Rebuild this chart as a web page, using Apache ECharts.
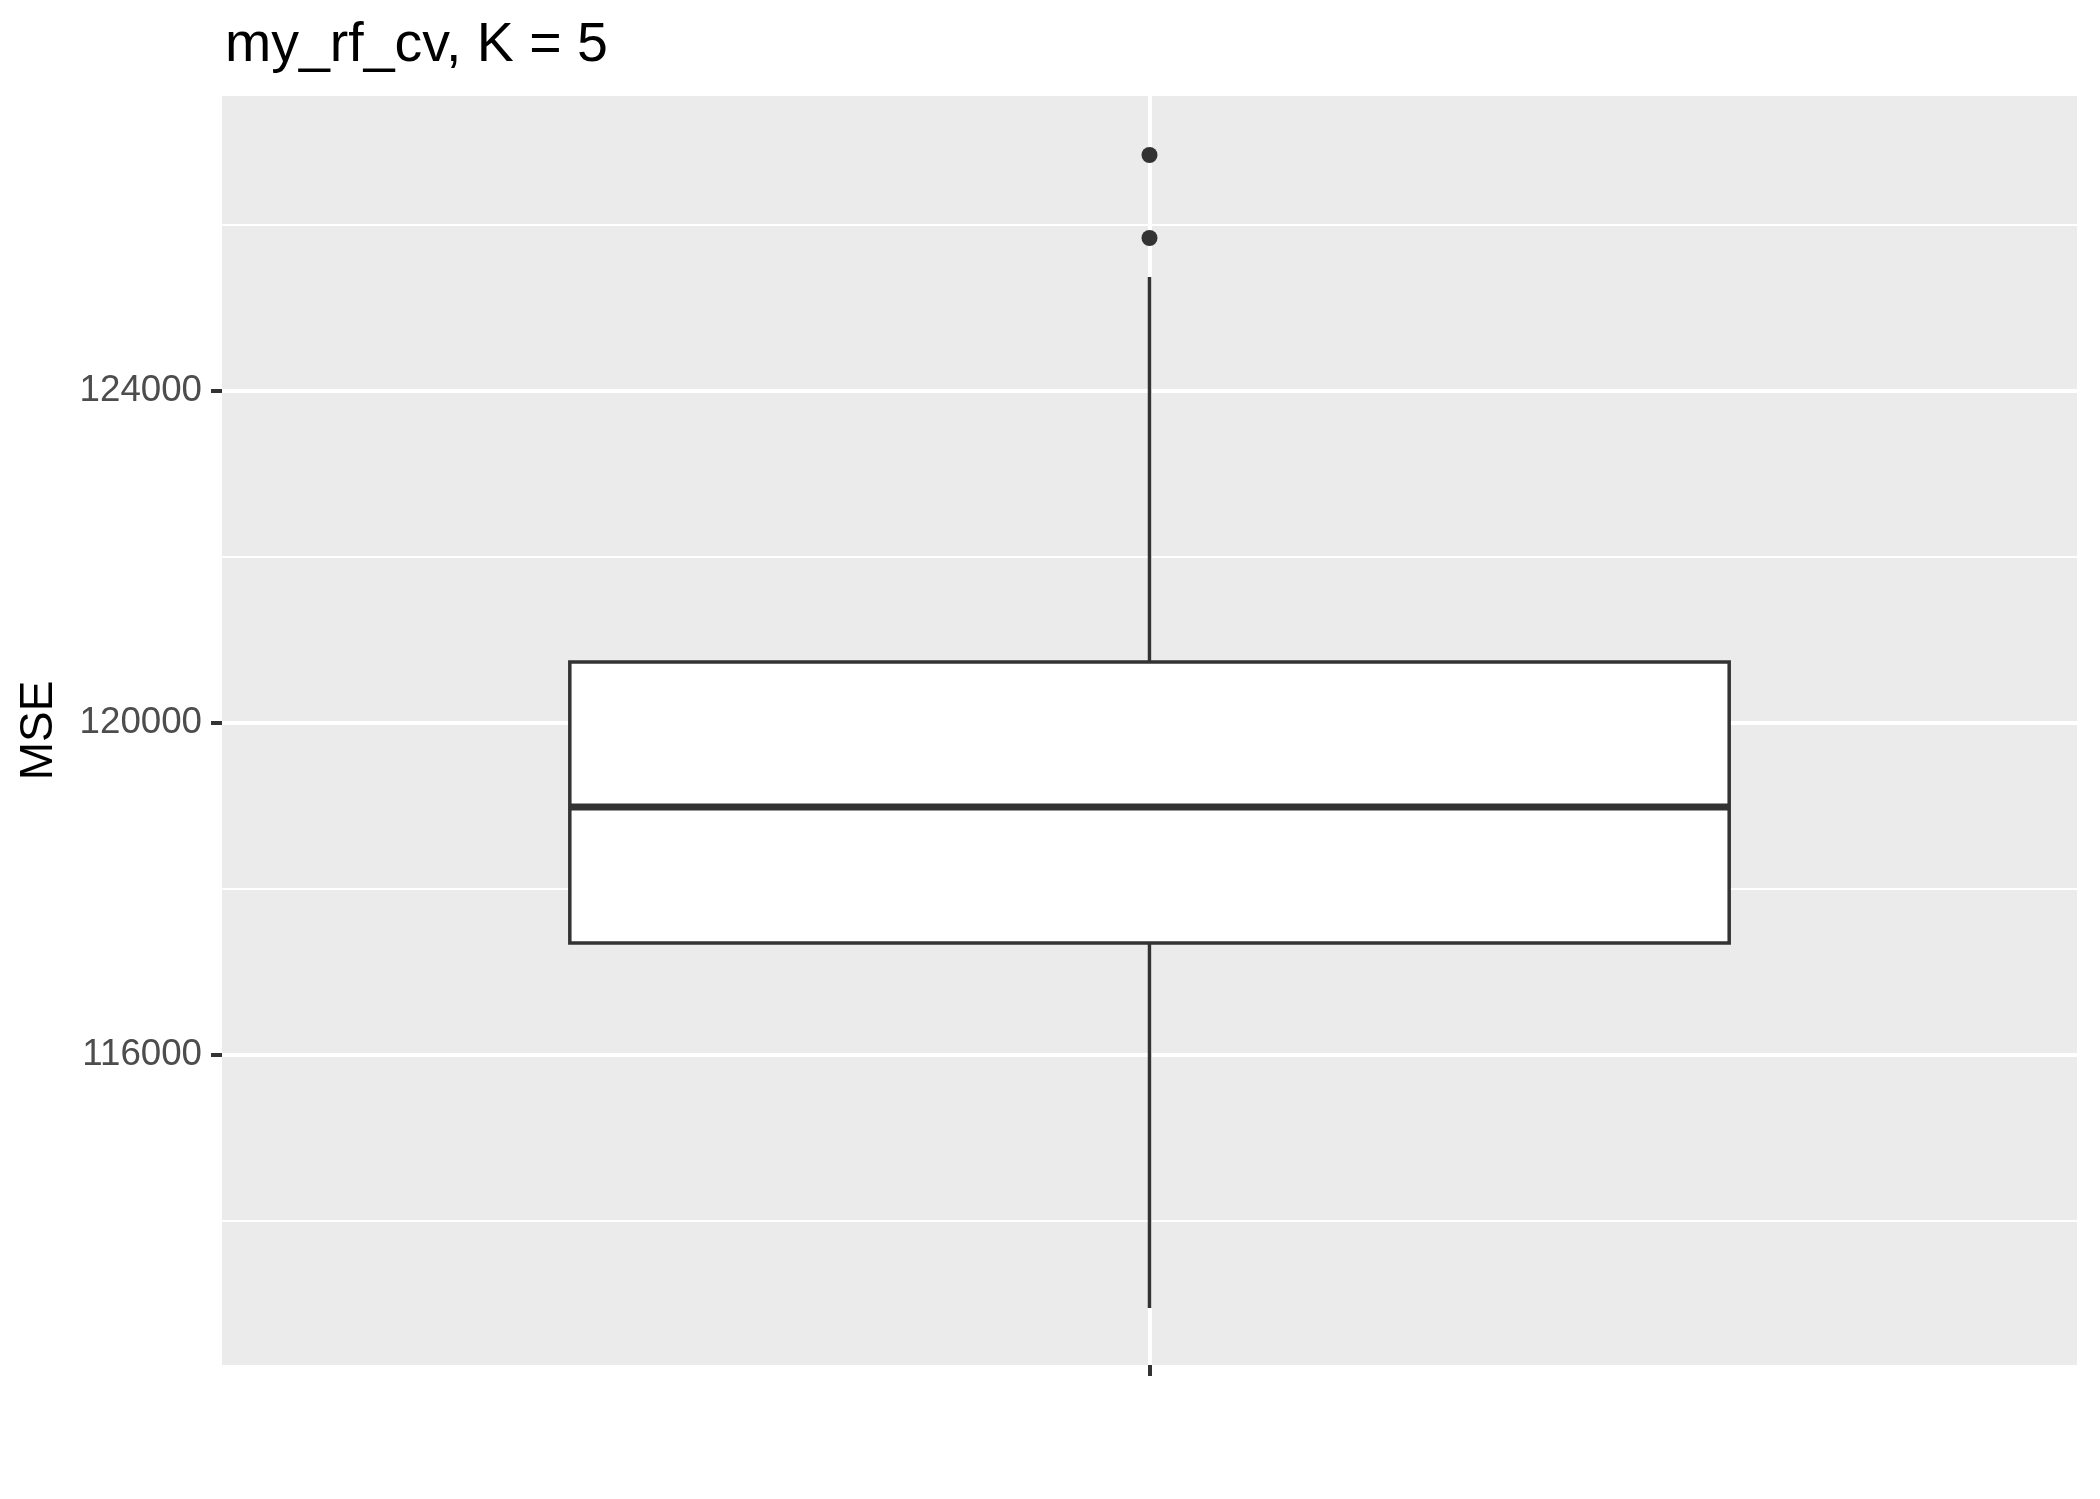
<!DOCTYPE html>
<html>
<head>
<meta charset="utf-8">
<script src="https://cdn.jsdelivr.net/npm/echarts@6/dist/echarts.min.js"></script>
<style>
html,body{margin:0;padding:0;background:#fff;}
#main{width:2100px;height:1499px;}
</style>
</head>
<body>
<div id="main"></div>
<script>
const categories = ['rf'];
// [lower whisker, Q1, median, Q3, upper whisker]
const boxStats = [[112952, 117349, 118988, 120735, 125373]];
const outliers = [126843, 125843];
const yTicks = [116000, 120000, 124000];
const yMinorGrid = [114000, 118000, 122000, 126000];
const yRange = [112265, 127554];
const titleText = 'my_rf_cv, K = 5';
const yName = 'MSE';

const FONT = 'Liberation Sans, Arial, sans-serif';
const chart = echarts.init(document.getElementById('main'), null, {renderer: 'canvas'});

const gridLines = [];
yTicks.forEach(v => gridLines.push({yAxis: v, lineStyle: {color: '#fff', width: 4, type: 'solid'}}));
yMinorGrid.forEach(v => gridLines.push({yAxis: v, lineStyle: {color: '#fff', width: 2, type: 'solid'}}));
categories.forEach(c => gridLines.push({xAxis: c, lineStyle: {color: '#fff', width: 4, type: 'solid'}}));

const option = {
  animation: false,
  backgroundColor: '#ffffff',
  title: {
    text: titleText, left: 220, top: 13,
    textStyle: {fontFamily: FONT, fontSize: 55.5, fontWeight: 'normal', color: '#000'}
  },
  grid: {left: 222, right: 23, top: 96, bottom: 134, show: true, backgroundColor: '#EBEBEB', borderWidth: 0},
  xAxis: {
    type: 'category', data: categories, boundaryGap: true,
    axisLine: {show: false},
    axisTick: {show: true, alignWithLabel: true, length: 11, lineStyle: {color: '#333333', width: 4}},
    axisLabel: {show: false},
    splitLine: {show: false}
  },
  yAxis: {
    type: 'value', min: yRange[0], max: yRange[1],
    name: yName, nameLocation: 'middle', nameRotate: 90, nameGap: 160,
    nameTextStyle: {fontFamily: FONT, fontSize: 46, color: '#000'},
    axisLine: {show: false},
    axisTick: {show: true, customValues: yTicks, length: 11, lineStyle: {color: '#333333', width: 4}},
    axisLabel: {show: true, customValues: yTicks, margin: 20, fontFamily: FONT, fontSize: 36.7, color: '#4D4D4D', formatter: v => String(v)},
    splitLine: {show: false}
  },
  series: [
    {
      type: 'line', data: [], z: 1, silent: true,
      markLine: {silent: true, symbol: ['none', 'none'], label: {show: false}, animation: false, data: gridLines}
    },
    {
      type: 'custom', z: 5,
      data: boxStats.map((s, i) => [i].concat(s)),
      encode: {x: 0, y: [1, 2, 3, 4, 5]},
      renderItem: function (params, api) {
        const idx = api.value(0);
        const lo = api.coord([idx, api.value(1)]);
        const q1 = api.coord([idx, api.value(2)]);
        const md = api.coord([idx, api.value(3)]);
        const q3 = api.coord([idx, api.value(4)]);
        const hi = api.coord([idx, api.value(5)]);
        const w = api.size([1, 0])[0] * 0.625;
        const cx = q1[0];
        const stroke = {stroke: '#333333', lineWidth: 3.5, fill: null};
        return {
          type: 'group',
          children: [
            {type: 'line', shape: {x1: cx, y1: q3[1], x2: cx, y2: hi[1]}, style: stroke},
            {type: 'line', shape: {x1: cx, y1: q1[1], x2: cx, y2: lo[1]}, style: stroke},
            {type: 'rect', shape: {x: cx - w / 2, y: q3[1], width: w, height: q1[1] - q3[1]},
             style: {fill: '#ffffff', stroke: '#333333', lineWidth: 3.5}},
            {type: 'line', shape: {x1: cx - w / 2, y1: md[1], x2: cx + w / 2, y2: md[1]},
             style: {stroke: '#333333', lineWidth: 7}}
          ]
        };
      }
    },
    {
      type: 'scatter', z: 6,
      data: outliers.map(v => [categories[0], v]),
      symbol: 'circle', symbolSize: 16,
      itemStyle: {color: '#333333', opacity: 1}
    }
  ]
};
chart.setOption(option);
</script>
</body>
</html>
